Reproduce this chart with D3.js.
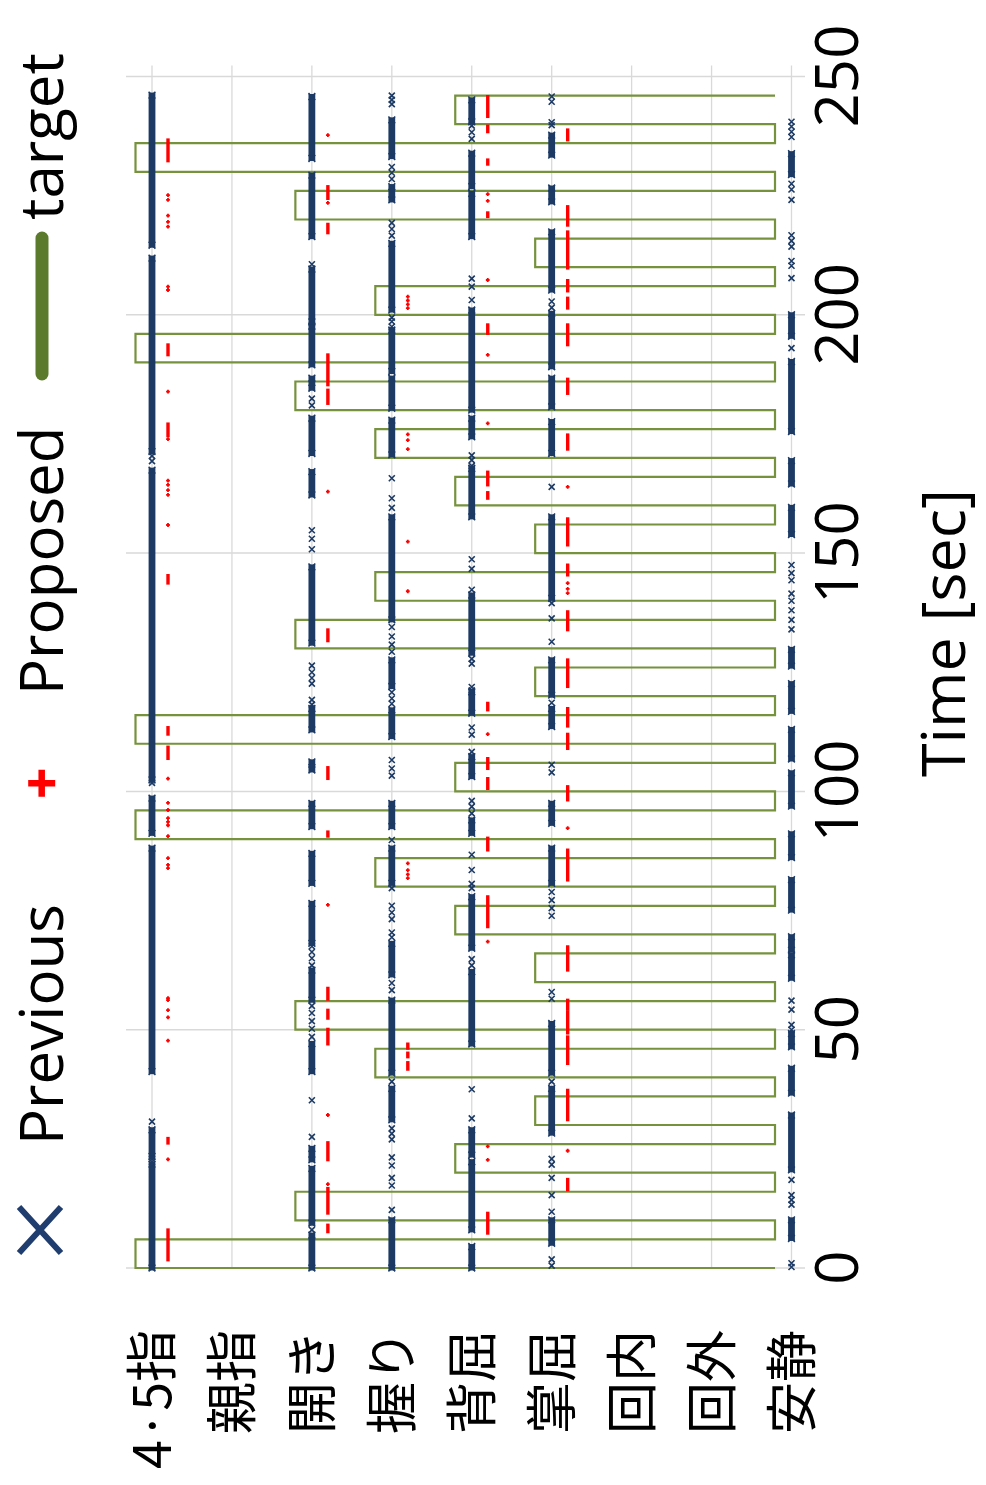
<!DOCTYPE html>
<html>
<head>
<meta charset="utf-8">
<script src="https://cdn.jsdelivr.net/npm/d3@7"></script>
<style>
  html, body { margin: 0; padding: 0; background: #ffffff; }
  svg { display: block; }
</style>
</head>
<body>
<svg id="chart" width="986" height="1485"></svg>
<script>
// ---- categories and axis ticks ----
const categories = ["4·5指", "親指", "開き", "握り", "背屈", "掌屈", "回内", "回外", "安静"];
const timeTicks = [0, 50, 100, 150, 200, 250];
const restLabel = "安静";

// ---- target schedule (seconds) ----
const taskOnsets  = [0, 10, 20, 30, 40, 50, 60, 70, 80, 90, 100, 110, 120, 130, 140, 150, 160, 170, 180, 190, 200, 210, 220, 230, 240];
const taskOffsets = [6, 16, 26, 36, 46, 56, 66, 76, 86, 96, 106, 116, 126, 136, 146, 156, 166, 176, 186, 196, 206, 216, 226, 236, 246];
const taskLabels  = ["4·5指", "開き", "背屈", "掌屈", "握り", "開き", "掌屈", "背屈", "握り", "4·5指",
                     "背屈", "4·5指", "掌屈", "開き", "握り", "掌屈", "背屈", "握り", "開き", "4·5指",
                     "握り", "掌屈", "開き", "4·5指", "背屈"];

// ---- Previous method: continuous detection runs [start, end] and isolated detections (sec) ----
const prevRuns45 = [[0,21.8],[23.4,29.0],[41.2,88.1],[91.2,98.6],[102.4,167.4],[171.3,211.9],[214.6,246.1]];
const prevPts45  = [22.3,22.9,30.7,101.8,169.3,170.4];
const prevRunsThumb = [];
const prevPtsThumb  = [];
const prevRunsOpen = [[0,6.9],[9.4,20.9],[22.7,25.1],[41.2,47.1],[56.2,62.5],[68.1,76.5],[80.7,87.0],[92.6,97.5],[104.5,106.2],[112.9,117.4],[131.1,147.1],[162.2,167.1],[170.9,178.3],[184.6,186.7],[189.5,197.6],[198.5,209.6],[216.4,229.3],[232.8,245.8]];
const prevPtsOpen  = [8.0,27.5,35.2,48.5,50.2,51.8,53.5,55.0,63.5,65.0,66.3,67.5,118.2,119.2,122.6,123.8,125.0,126.4,150.8,153.0,154.8,181.0,182.4,210.6];
const prevRunsGrip = [[0,10.1],[31.1,37.7],[40.9,56.2],[61.5,68.1],[80.7,88.1],[92.6,97.5],[111.5,117.1],[122.0,127.6],[136.0,157.6],[170.6,177.9],[180.4,186.7],[188.1,196.8],[201.0,215.0],[224.1,226.9],[233.2,240.9]];
const prevPtsGrip  = [12.2,17.3,18.9,21.5,23.2,27.0,28.2,29.3,39.1,58.3,59.8,69.4,70.4,73.2,74.6,76.0,79.7,89.8,103.3,104.8,106.6,118.4,119.5,120.8,129.3,130.8,132.5,134.5,159.5,161.5,165.7,197.5,198.6,199.4,216.6,218.0,219.3,228.5,229.8,231.0,244.2,245.1,246.0];
const prevRunsDorsi = [[0,4.5],[8.0,22.3],[23.7,29.0],[47.0,62.2],[67.1,77.9],[91.2,94.0],[103.1,107.3],[116.4,120.9],[129.0,141.2],[157.6,167.8],[174.4,178.3],[180.0,201.0],[216.4,225.5],[226.9,233.9],[240.5,245.1]];
const prevPtsDorsi  = [31.4,37.5,63.5,64.8,79.7,80.6,83.5,86.7,95.4,96.8,98.0,108.3,111.9,113.4,121.2,121.9,126.8,127.8,142.3,146.7,148.7,168.3,169.5,170.5,203.1,205.9,207.6,236.9,238.3,239.7];
const prevRunsPalmar = [[5.2,10.1],[28.3,37.7],[40.9,51.3],[80.7,88.1],[93.3,97.5],[113.6,117.4],[120.2,127.6],[140.5,157.6],[170.9,177.6],[180.7,186.7],[189.1,200.3],[205.2,217.4],[223.7,226.6],[233.5,237.7]];
const prevPtsPalmar  = [0.5,1.8,11.8,15.3,18.9,21.7,22.9,39.1,56.5,57.9,73.9,75.5,77.2,78.9,104.0,105.6,118.6,131.4,136.3,139.5,163.9,201.5,202.8,239.8,240.4,244.7,245.8];
const prevRunsPron = [];
const prevPtsPron  = [];
const prevRunsSup = [];
const prevPtsSup  = [];
const prevRunsRest = [[6.2,10.1],[20.6,32.1],[36.7,41.9],[46.4,49.2],[60.8,65.7],[66.7,69.5],[75.1,81.5],[86.1,91.1],[96.9,103.9],[106.8,113.0],[116.8,122.6],[126.3,129.8],[153.9,159.6],[164.5,169.4],[175.5,190.2],[195.5,200.0],[229.4,233.8]];
const prevPtsRest  = [0.2,1.0,13.3,14.3,15.3,18.5,50.0,51.0,54.2,56.1,134.0,136.0,138.0,140.0,141.5,144.3,145.8,147.5,193.0,207.7,210.3,211.3,214.3,215.5,216.7,224.1,226.3,227.5,237.3,238.4,239.5,240.5];

// ---- Proposed method: detection runs and isolated detections (sec) ----
const propRuns45 = [[1.7,8.0],[26.2,27.2],[106.9,109.3],[112.0,113.4],[143.7,145.3],[174.6,177.1],[191.6,193.7],[232.3,236.7]];
const propPts45  = [22.8,47.7,52.6,54.1,56.2,56.6,83.9,84.6,86.0,90.6,92.9,93.6,94.4,96.1,97.6,102.7,155.9,162.2,163.2,164.3,165.2,173.9,183.9,205.2,205.9,218.5,219.5,220.8,224.1,225.1];
const propRunsOpen = [[7.6,9.0],[11.5,16.7],[22.7,26.3],[47.0,50.1],[52.4,54.1],[56.4,58.7],[90.6,91.5],[102.7,105.0],[131.6,133.9],[181.4,184.2],[185.3,191.6],[217.2,219.0],[224.4,226.9]];
const propPtsOpen  = [17.6,32.1,76.2,162.9,223.5,237.7];
const propRunsGrip = [[41.7,43.1],[44.3,45.1],[46.1,47.0]];
const propPtsGrip  = [81.8,82.6,83.5,84.9,142.0,152.4,171.8,173.7,174.9,201.4,202.2,203.0,203.8];
const propRunsDorsi = [[7.3,11.5],[71.6,77.9],[87.7,90.2],[100.6,102.7],[104.8,106.9],[117.1,118.5],[161.5,162.7],[164.3,167.0],[196.1,197.9],[220.6,221.4],[231.6,232.5],[238.4,239.6],[241.6,245.8]];
const propPtsDorsi  = [22.7,25.5,68.5,112.0,177.2,191.6,207.3,223.9,225.3];
const propRunsPalmar = [[16.4,18.6],[31.1,37.3],[42.9,48.5],[49.3,53.8],[54.4,56.2],[62.5,67.4],[81.4,87.7],[98.2,101.0],[109.0,112.0],[113.7,117.4],[122.0,127.6],[133.9,137.7],[145.4,147.5],[151.7,157.2],[171.8,174.8],[183.5,186.5],[193.7,197.9],[201.4,203.5],[205.0,207.2],[209.8,217.4],[218.8,222.7],[236.7,238.8]];
const propPtsPalmar  = [24.6,92.3,141.6,142.5,143.7,163.9];

// ---- tables assembled from the arrays above ----
const previousTable = [
  { cat: "4·5指", runs: prevRuns45,     pts: prevPts45 },
  { cat: "親指",  runs: prevRunsThumb,  pts: prevPtsThumb },
  { cat: "開き",  runs: prevRunsOpen,   pts: prevPtsOpen },
  { cat: "握り",  runs: prevRunsGrip,   pts: prevPtsGrip },
  { cat: "背屈",  runs: prevRunsDorsi,  pts: prevPtsDorsi },
  { cat: "掌屈",  runs: prevRunsPalmar, pts: prevPtsPalmar },
  { cat: "回内",  runs: prevRunsPron,   pts: prevPtsPron },
  { cat: "回外",  runs: prevRunsSup,    pts: prevPtsSup },
  { cat: "安静",  runs: prevRunsRest,   pts: prevPtsRest }
];
const proposedTable = [
  { cat: "4·5指", runs: propRuns45,     pts: propPts45 },
  { cat: "開き",  runs: propRunsOpen,   pts: propPtsOpen },
  { cat: "握り",  runs: propRunsGrip,   pts: propPtsGrip },
  { cat: "背屈",  runs: propRunsDorsi,  pts: propPtsDorsi },
  { cat: "掌屈",  runs: propRunsPalmar, pts: propPtsPalmar }
];

// target step line: rest -> task at onset, task -> rest at offset
const targetPts = [[taskOnsets[0], restLabel]];
taskOnsets.forEach((t0, i) => {
  targetPts.push([t0, taskLabels[i]], [taskOffsets[i], taskLabels[i]], [taskOffsets[i], restLabel]);
  if (i < taskOnsets.length - 1) targetPts.push([taskOnsets[i + 1], restLabel]);
});

// ---- drawing ----
const W = 986, H = 1485;
const NAVY = "#1c3a64", RED = "#ff0000", OLIVE = "#76923c", GRID = "#d9d9d9";
const LATIN = "'Open Sans', 'Noto Sans', sans-serif";
const CJK = "'Noto Sans CJK JP', 'Noto Sans', sans-serif";

const svg = d3.select("#chart");
// The whole chart is laid out in a frame turned a quarter turn counter-clockwise:
// frame x runs up the page (time), frame y runs to the right (categories).
const g = svg.append("g").attr("transform", `translate(0,${H}) rotate(-90)`);

const x = d3.scaleLinear().domain([0, 250]).range([217, 1408.5]);
const y = d3.scalePoint().domain(categories).range([152, 791.5]);

const yTop = y(categories[0]) - 26;       // left edge of plot area
const yBot = y(categories[categories.length - 1]) + 13.5;
const xPlotEnd = x.range()[1] + 11;       // category grid lines reach slightly beyond 250

// time grid lines
g.append("g").selectAll("line").data(timeTicks).join("line")
  .attr("x1", d => x(d)).attr("x2", d => x(d))
  .attr("y1", yTop).attr("y2", yBot)
  .attr("stroke", GRID).attr("stroke-width", 1.5);

// category grid lines
g.append("g").selectAll("line").data(categories).join("line")
  .attr("x1", x(0)).attr("x2", xPlotEnd)
  .attr("y1", d => y(d)).attr("y2", d => y(d))
  .attr("stroke", GRID).attr("stroke-width", 1.3);

// target line
const targetOffset = -16.5;
g.append("path")
  .datum(targetPts)
  .attr("fill", "none")
  .attr("stroke", OLIVE)
  .attr("stroke-width", 2.2)
  .attr("stroke-linejoin", "miter")
  .attr("d", d3.line().x(d => x(d[0])).y(d => y(d[1]) + targetOffset));

// Previous: dense runs of × markers as bars, isolated ones as ×
const prevG = g.append("g");
const xMark = s => `M${-s},${-s}L${s},${s}M${-s},${s}L${s},${-s}`;
previousTable.forEach(row => {
  const cy = y(row.cat);
  prevG.append("g").selectAll("rect").data(row.runs).join("rect")
    .attr("x", d => x(d[0]) - 2.5)
    .attr("width", d => Math.max(0, x(d[1]) - x(d[0])) + 5)
    .attr("y", cy - 3.4).attr("height", 6.8)
    .attr("fill", NAVY);
  // run ends finish with a × marker
  prevG.append("g").selectAll("path").data(row.runs.flat()).join("path")
    .attr("transform", d => `translate(${x(d)},${cy})`)
    .attr("d", xMark(3.4))
    .attr("stroke", NAVY).attr("stroke-width", 1.5).attr("fill", "none");
  prevG.append("g").selectAll("path").data(row.pts).join("path")
    .attr("transform", d => `translate(${x(d)},${cy})`)
    .attr("d", xMark(3))
    .attr("stroke", NAVY).attr("stroke-width", 1.6).attr("fill", "none");
});

// Proposed: runs of + markers as thin bars, isolated ones as +
const propOffset = 16;
const plusMark = s => `M${-s},0L${s},0M0,${-s}L0,${s}`;
const propG = g.append("g");
proposedTable.forEach(row => {
  const cy = y(row.cat) + propOffset;
  propG.append("g").selectAll("rect").data(row.runs).join("rect")
    .attr("x", d => x(d[0]) - 1.5)
    .attr("width", d => Math.max(0, x(d[1]) - x(d[0])) + 3)
    .attr("y", cy - 1.7).attr("height", 3.4)
    .attr("fill", RED);
  propG.append("g").selectAll("path").data(row.pts).join("path")
    .attr("transform", d => `translate(${x(d)},${cy})`)
    .attr("d", plusMark(1.9))
    .attr("stroke", RED).attr("stroke-width", 1.8).attr("fill", "none");
});

// time axis labels (below the plot in the frame)
const xAxis = d3.axisBottom(x).tickValues(timeTicks).tickSize(0).tickPadding(13).tickFormat(d3.format("d"));
const xAxisG = g.append("g").attr("transform", `translate(0,${yBot - 3})`).call(xAxis);
xAxisG.select(".domain").remove();
xAxisG.selectAll("text")
  .attr("font-family", LATIN).attr("font-size", 60).attr("fill", "#000");

// axis title, centred along the frame's time direction
g.append("text")
  .attr("x", 852).attr("y", 965)
  .attr("text-anchor", "middle")
  .attr("font-family", LATIN).attr("font-size", 61).attr("fill", "#000")
  .text("Time [sec]");

// category labels (left of the plot in the frame)
const yAxis = d3.axisLeft(y).tickSize(0).tickPadding(0);
const yAxisG = g.append("g").attr("transform", `translate(155,0)`).call(yAxis);
yAxisG.select(".domain").remove();
yAxisG.selectAll("text")
  .attr("font-family", CJK).attr("font-size", 52).attr("fill", "#000")
  .attr("dy", "0.36em");

// legend
const legend = g.append("g");
legend.append("path")
  .attr("transform", "translate(255,40)")
  .attr("d", "M-23,-21L23,21M-23,21L23,-21")
  .attr("stroke", "#1f3d6e").attr("stroke-width", 6).attr("fill", "none");
legend.append("text").attr("x", 340).attr("y", 63)
  .attr("font-family", LATIN).attr("font-size", 60).attr("fill", "#000").text("Previous");
legend.append("path")
  .attr("transform", "translate(701.7,41.7)")
  .attr("d", plusMark(13.5))
  .attr("stroke", RED).attr("stroke-width", 6.5).attr("fill", "none");
legend.append("text").attr("x", 790).attr("y", 63)
  .attr("font-family", LATIN).attr("font-size", 60).attr("fill", "#000").text("Proposed");
legend.append("line")
  .attr("x1", 1111).attr("x2", 1247).attr("y1", 42).attr("y2", 42)
  .attr("stroke", "#5b7a2c").attr("stroke-width", 13).attr("stroke-linecap", "round");
legend.append("text").attr("x", 1265).attr("y", 63)
  .attr("font-family", LATIN).attr("font-size", 60).attr("fill", "#000").text("target");
</script>
</body>
</html>
